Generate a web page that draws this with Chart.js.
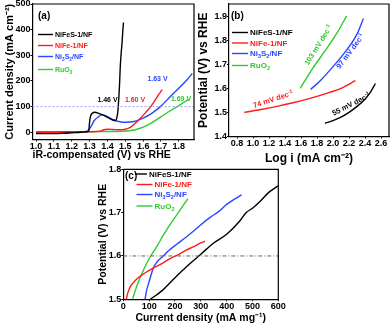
<!DOCTYPE html>
<html>
<head>
<meta charset="utf-8">
<script src="https://cdn.jsdelivr.net/npm/chart.js@4.4.0/dist/chart.umd.min.js"></script>
<style>
html, body { margin: 0; padding: 0; background: #fff; }
#wrap { position: relative; width: 392px; height: 327px; overflow: hidden; }
canvas { position: absolute; }
</style>
</head>
<body>
<div id="wrap">
  <canvas id="cA" width="196" height="165" style="left:0;top:0"></canvas>
  <canvas id="cB" width="196" height="168" style="left:196px;top:0"></canvas>
  <canvas id="cC" width="200" height="167" style="left:90px;top:160px"></canvas>
</div>
<script>
var names = ['NiFeS-1/NF', 'NiFe-1/NF', 'Ni3S2/NF', 'RuO2'];
var colors = ['#000000', '#ff1a1a', '#2b46ff', '#2fcb2f'];

// (a) polarization curves: potential (V) and current density (mA cm-2)
var aBlackV = [1.00, 1.10, 1.15, 1.20, 1.25, 1.28, 1.295, 1.30, 1.305, 1.315, 1.33, 1.35, 1.38, 1.41, 1.43, 1.445, 1.452, 1.458, 1.463, 1.468, 1.472, 1.477, 1.482, 1.486, 1.49];
var aBlackJ = [-5, -5, -4, -2, 0, 2, 5, 40, 62, 74, 78, 74, 66, 55, 48, 46, 55, 80, 127, 190, 258, 310, 350, 395, 428];
var aRedV = [1.00, 1.20, 1.30, 1.36, 1.38, 1.40, 1.43, 1.46, 1.50, 1.53, 1.56, 1.58, 1.60, 1.62, 1.64, 1.66, 1.68, 1.695, 1.707];
var aRedJ = [-2, 0, 2, 4, 10, 12, 11, 10, 12, 20, 38, 52, 66, 82, 98, 118, 140, 155, 166];
var aBlueV = [1.00, 1.20, 1.28, 1.295, 1.31, 1.325, 1.35, 1.37, 1.40, 1.435, 1.47, 1.50, 1.55, 1.60, 1.65, 1.70, 1.75, 1.80, 1.85, 1.875];
var aBlueJ = [0, 1, 3, 10, 25, 45, 61, 68, 61, 48, 41, 39, 42, 55, 75, 102, 138, 172, 208, 229];
var aGreenV = [1.00, 1.20, 1.40, 1.49, 1.55, 1.60, 1.65, 1.70, 1.75, 1.80, 1.83, 1.856];
var aGreenJ = [2, 2, 3, 4, 9, 20, 38, 60, 83, 104, 118, 127];
var aTicksX = [1.0, 1.1, 1.2, 1.3, 1.4, 1.5, 1.6, 1.7, 1.8];
var aTicksY = [0, 100, 200, 300, 400, 500];
var aRefJ = 100;
var aNotes = ['1.46 V', '1.60 V', '1.63 V', '1.69 V'];

// (b) Tafel plots: log i and potential (V)
var bBlackX = [1.90, 2.00, 2.10, 2.20, 2.30, 2.40, 2.47, 2.53];
var bBlackY = [1.455, 1.466, 1.48, 1.50, 1.525, 1.555, 1.585, 1.62];
var bRedX = [0.89, 1.10, 1.30, 1.50, 1.70, 1.90, 2.10, 2.28];
var bRedY = [1.50, 1.512, 1.525, 1.54, 1.557, 1.577, 1.60, 1.632];
var bBlueX = [1.72, 1.85, 2.00, 2.15, 2.30, 2.38];
var bBlueY = [1.595, 1.635, 1.69, 1.75, 1.825, 1.89];
var bGreenX = [1.59, 1.75, 1.90, 2.05, 2.17];
var bGreenY = [1.60, 1.685, 1.755, 1.83, 1.90];
var bTicksX = [0.8, 1.0, 1.2, 1.4, 1.6, 1.8, 2.0, 2.2, 2.4, 2.6];
var bTicksY = [1.4, 1.5, 1.6, 1.7, 1.8, 1.9];
var bSlopes = ['55', '74', '97', '103'];

// (c) mass activity: current density (mA mg-1) and potential (V)
var cBlackX = [105, 150, 200, 250, 300, 350, 400, 450, 475, 500, 530, 560, 575, 600];
var cBlackY = [1.50, 1.52, 1.55, 1.578, 1.604, 1.63, 1.65, 1.68, 1.70, 1.71, 1.726, 1.745, 1.752, 1.762];
var cRedX = [12, 16, 22, 30, 40, 52, 65, 90, 116, 142, 181, 206, 245, 271, 300, 316];
var cRedY = [1.50, 1.512, 1.522, 1.532, 1.539, 1.547, 1.553, 1.563, 1.572, 1.58, 1.594, 1.601, 1.614, 1.621, 1.63, 1.634];
var cBlueX = [84, 90, 97, 107, 116, 129, 155, 175, 207, 240, 271, 300, 336, 370, 400, 430, 458];
var cBlueY = [1.50, 1.52, 1.535, 1.555, 1.572, 1.585, 1.60, 1.612, 1.627, 1.642, 1.657, 1.672, 1.689, 1.703, 1.719, 1.731, 1.741];
var cGreenX = [36, 45, 55, 65, 80, 103, 130, 155, 180, 207, 230, 250];
var cGreenY = [1.50, 1.518, 1.535, 1.55, 1.57, 1.597, 1.622, 1.648, 1.672, 1.695, 1.715, 1.732];
var cTicksX = [0, 100, 200, 300, 400, 500, 600];
var cTicksY = [1.5, 1.6, 1.7, 1.8];
var cRefY = 1.6;

var FONT = '"Liberation Sans", Arial, Helvetica, sans-serif';
Chart.defaults.font.family = FONT;
Chart.defaults.font.weight = 'bold';
Chart.defaults.color = '#000';

function series(xs, ys, color) {
  return {
    data: xs.map(function (x, i) { return { x: x, y: ys[i] }; }),
    borderColor: color,
    backgroundColor: color,
    borderWidth: 1.4,
    pointRadius: 0,
    fill: false,
    cubicInterpolationMode: 'monotone'
  };
}

// split "Ni3S2/NF" into text parts with subscripts
function chemParts(s) {
  var parts = [];
  for (var i = 0; i < s.length; i++) {
    var ch = s[i];
    var sub = /[0-9]/.test(ch) && i > 0 && /[A-Za-z]/.test(s[i - 1]);
    parts.push(sub ? [ch, 'sub'] : ch);
  }
  return parts;
}

function drawRich(ctx, parts, x, y, size, color, align, angle) {
  ctx.save();
  ctx.translate(x, y);
  if (angle) ctx.rotate(angle * Math.PI / 180);
  ctx.fillStyle = color;
  ctx.textBaseline = 'alphabetic';
  ctx.textAlign = 'left';
  var segs = parts.map(function (p) {
    var t = typeof p === 'string' ? p : p[0];
    var mode = typeof p === 'string' ? '' : p[1];
    var s = mode ? size * 0.68 : size;
    ctx.font = 'bold ' + s + 'px ' + FONT;
    return { t: t, mode: mode, s: s, w: ctx.measureText(t).width };
  });
  var total = segs.reduce(function (a, g) { return a + g.w; }, 0);
  var cx = align === 'center' ? -total / 2 : 0;
  segs.forEach(function (g) {
    ctx.font = 'bold ' + g.s + 'px ' + FONT;
    var dy = g.mode === 'sup' ? -size * 0.4 : (g.mode === 'sub' ? size * 0.25 : 0);
    ctx.fillText(g.t, cx, size * 0.36 + dy);
    cx += g.w;
  });
  ctx.restore();
}

// frame, reference line, legend and labels
function decor(o) {
  return {
    id: 'decor',
    afterDatasetsDraw: function (chart) {
      var ctx = chart.ctx, ca = chart.chartArea;
      var xs = chart.scales.x, ys = chart.scales.y;
      ctx.save();
      if (o.ref) {
        var py = ys.getPixelForValue(o.ref.value);
        ctx.strokeStyle = o.ref.color;
        ctx.lineWidth = 1;
        ctx.setLineDash(o.ref.dash);
        ctx.beginPath();
        ctx.moveTo(ca.left, py);
        ctx.lineTo(ca.right, py);
        ctx.stroke();
        ctx.setLineDash([]);
      }
      ctx.strokeStyle = '#000';
      ctx.lineWidth = 1.2;
      ctx.beginPath();
      ctx.moveTo(ca.left, ca.top);
      ctx.lineTo(ca.right, ca.top);
      ctx.lineTo(ca.right, ca.bottom);
      ctx.stroke();
      ctx.restore();

      drawRich(ctx, [o.tag], o.tagPos[0], o.tagPos[1], 10, '#000', 'left');

      var L = o.legend;
      names.forEach(function (n, i) {
        var row = L.rows[i];
        var lx = L.lines[i] || L.lines[L.lines.length - 1];
        ctx.save();
        ctx.strokeStyle = colors[i];
        ctx.lineWidth = 1.4;
        ctx.beginPath();
        ctx.moveTo(lx[0], row);
        ctx.lineTo(lx[1], row);
        ctx.stroke();
        ctx.restore();
        drawRich(ctx, chemParts(n), lx[1] + 2, row, L.size, colors[i], 'left');
      });

      (o.notes || []).forEach(function (t) {
        drawRich(ctx, t.parts, t.x, t.y, t.size, t.color, 'center', t.angle || 0);
      });
    }
  };
}

function axisCfg(a, dir) {
  return {
    type: 'linear',
    min: a.min,
    max: a.max,
    afterBuildTicks: function (s) {
      s.ticks = a.ticks.map(function (v) { return { value: v }; });
    },
    afterFit: function (s) {
      if (dir === 'x') s.height = a.size; else s.width = a.size;
      s.paddingTop = 0; s.paddingBottom = 0; s.paddingLeft = 0; s.paddingRight = 0;
    },
    border: { display: true, color: '#000', width: 1.2 },
    grid: { display: true, drawOnChartArea: false, drawTicks: true, tickLength: 2, color: '#000', lineWidth: 1 },
    ticks: {
      color: '#000', padding: 0, autoSkip: false, maxRotation: 0, minRotation: 0,
      font: { size: 9, weight: 'bold' },
      callback: function (v) { return a.fmt ? Number(v).toFixed(a.fmt) : String(v); }
    },
    title: {
      display: true, text: a.title, color: '#000', align: a.align || 'center',
      font: { size: a.tsize, weight: 'bold' },
      padding: dir === 'x' ? { top: 0, bottom: a.tpad } : { top: a.tpad, bottom: 0 }
    }
  };
}

function makeChart(id, sets, ax, ay, pad, deco) {
  return new Chart(document.getElementById(id), {
    type: 'line',
    data: { datasets: sets },
    options: {
      responsive: false,
      animation: false,
      devicePixelRatio: 1,
      parsing: true,
      layout: { padding: pad },
      plugins: { legend: { display: false }, tooltip: { enabled: false } },
      scales: { x: axisCfg(ax, 'x'), y: axisCfg(ay, 'y') }
    },
    plugins: [decor(deco)]
  });
}

// ---- panel (a)
makeChart('cA',
  [series(aBlackV, aBlackJ, colors[0]), series(aRedV, aRedJ, colors[1]),
   series(aBlueV, aBlueJ, colors[2]), series(aGreenV, aGreenJ, colors[3])],
  { min: 0.98, max: 1.885, ticks: aTicksX, fmt: 1, size: 25.5, title: 'iR-compensated (V) vs RHE', tsize: 10.5, tpad: 3.7, align: 'start' },
  { min: -28, max: 500, ticks: aTicksY, fmt: 0, size: 32.5, title: 'Current density (mA cm\u207B\u00B2)', tsize: 11, tpad: 3.4 },
  { top: 4, right: 2, left: 0, bottom: 0 },
  {
    tag: '(a)', tagPos: [38, 15],
    ref: { value: aRefJ, color: '#9a9aff', dash: [2, 2] },
    legend: { rows: [34.5, 45.5, 56.5, 69.5], lines: [[38, 53]], size: 7 },
    notes: [
      { parts: [aNotes[0]], x: 107.5, y: 99.5, size: 7, color: colors[0] },
      { parts: [aNotes[1]], x: 135, y: 99.5, size: 7, color: colors[1] },
      { parts: [aNotes[2]], x: 157.5, y: 78.5, size: 7, color: colors[2] },
      { parts: [aNotes[3]], x: 181, y: 98.5, size: 7, color: colors[3] }
    ]
  });

// ---- panel (b)
makeChart('cB',
  [series(bBlackX, bBlackY, colors[0]), series(bRedX, bRedY, colors[1]),
   series(bBlueX, bBlueY, colors[2]), series(bGreenX, bGreenY, colors[3])],
  { min: 0.7, max: 2.7, ticks: bTicksX, fmt: 1, size: 31.5, title: 'Log i (mA cm\u207B\u00B2)', tsize: 12, tpad: 1.8 },
  { min: 1.4, max: 1.95, ticks: bTicksY, fmt: 1, size: 33, title: 'Potential (V) vs RHE', tsize: 12, tpad: 0.8 },
  { top: 4, right: 3, left: 0, bottom: 0 },
  {
    tag: '(b)', tagPos: [35, 15],
    legend: { rows: [32.5, 43, 53.5, 65.5], lines: [[36, 52]], size: 8 },
    notes: [
      { parts: [bSlopes[0] + ' mV dec', ['-1', 'sup']], x: 155, y: 104, size: 7.5, color: colors[0], angle: -27 },
      { parts: [bSlopes[1] + ' mV dec', ['-1', 'sup']], x: 77, y: 99, size: 7.5, color: colors[1], angle: -18 },
      { parts: [bSlopes[2] + ' mV dec', ['-1', 'sup']], x: 154, y: 51, size: 7.5, color: colors[2], angle: -53 },
      { parts: [bSlopes[3] + ' mV dec', ['-1', 'sup']], x: 122, y: 45, size: 7.5, color: colors[3], angle: -58 }
    ]
  });

// ---- panel (c)
makeChart('cC',
  [series(cBlackX, cBlackY, colors[0]), series(cRedX, cRedY, colors[1]),
   series(cBlueX, cBlueY, colors[2]), series(cGreenX, cGreenY, colors[3])],
  { min: 0, max: 600, ticks: cTicksX, fmt: 0, size: 27.7, title: 'Current density (mA mg\u207B\u00B9)', tsize: 10.5, tpad: 2.7 },
  { min: 1.5, max: 1.8, ticks: cTicksY, fmt: 1, size: 33.3, title: 'Potential (V) vs RHE', tsize: 10.5, tpad: 6.7 },
  { top: 9.3, right: 11.7, left: 0, bottom: 0 },
  {
    tag: '(c)', tagPos: [35, 15],
    ref: { value: cRefY, color: '#666666', dash: [4, 2, 1, 2] },
    legend: { rows: [14, 24.5, 34.5, 46], lines: [[45, 57], [46.5, 62.5]], size: 8 },
    notes: []
  });
</script>
</body>
</html>
